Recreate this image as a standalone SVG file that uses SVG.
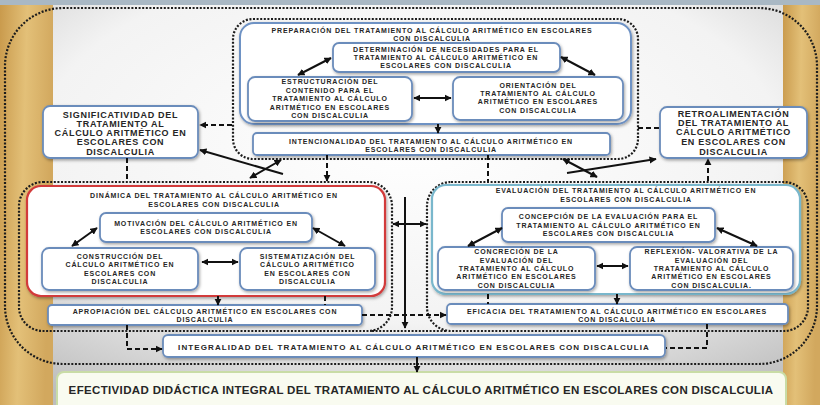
<svg xmlns="http://www.w3.org/2000/svg" width="820" height="405" viewBox="0 0 820 405">
<defs>
<radialGradient id="bg" cx="50%" cy="35%" r="75%">
<stop offset="0" stop-color="#ffffff"/>
<stop offset="0.6" stop-color="#f3f3f3"/>
<stop offset="1" stop-color="#bdbdbd"/>
</radialGradient>
<linearGradient id="wood" x1="0" y1="0" x2="1" y2="0.2">
<stop offset="0" stop-color="#c99a4c"/>
<stop offset="0.5" stop-color="#e3c078"/>
<stop offset="1" stop-color="#d2a85e"/>
</linearGradient>
<filter id="sh" x="-10%" y="-20%" width="120%" height="150%">
<feDropShadow dx="1" dy="1.5" stdDeviation="1.5" flood-color="#000" flood-opacity="0.35"/>
</filter>
<marker id="ah" viewBox="0 0 10 10" refX="9" refY="5" markerWidth="3.6" markerHeight="3.6" orient="auto-start-reverse">
<path d="M0,0 L10,5 L0,10 z" fill="#111"/>
</marker>
<style>
text{font-family:"Liberation Sans",Arial,sans-serif;font-weight:bold;fill:#262626;text-anchor:middle}
.t7{font-size:7px;letter-spacing:0.85px}
.t8{font-size:9px;letter-spacing:0.7px}
.ti{font-size:8px;letter-spacing:1.1px}
.te{font-size:11.5px;letter-spacing:0.35px}
.box{fill:#ffffff;stroke:#6b8cbb;stroke-width:1.8;filter:url(#sh)}
.frame{fill:none;stroke:#1c1c1c;stroke-width:2.2;stroke-dasharray:2 1.6}
.sol{fill:none;stroke:#111;stroke-width:2}
.das{fill:none;stroke:#111;stroke-width:2;stroke-dasharray:5 3}
</style>
</defs>

<g id="background">
<rect x="0" y="0" width="820" height="405" fill="url(#bg)"/>
<rect x="0" y="0" width="53" height="405" fill="url(#wood)"/>
<rect x="783" y="0" width="37" height="405" fill="url(#wood)"/>
<rect x="0" y="0" width="820" height="5" fill="#a9b8c4"/>
</g>

<g id="frames">
<rect class="frame" x="5" y="8" width="812" height="356" rx="58"/>
<rect class="frame" x="233" y="19" width="405" height="140" rx="20"/>
<rect class="frame" x="19" y="182" width="373" height="149" rx="24"/>
<rect class="frame" x="427" y="182" width="381" height="149" rx="24"/>
<line class="frame" x1="372" y1="331" x2="447" y2="331"/>
</g>

<g id="preparacion">
<rect x="240" y="23" width="391" height="101" rx="14" fill="#fff" stroke="#6e92c4" stroke-width="2" filter="url(#sh)"/>
<text class="t7" x="432" y="32.5">PREPARACIÓN DEL TRATAMIENTO AL CÁLCULO ARITMÉTICO EN ESCOLARES</text>
<text class="t7" x="432" y="41">CON DISCALCULIA</text>
</g>
<g id="determinacion">
<rect class="box" x="333" y="43" width="227" height="29" rx="6"/>
<text class="t7" x="446" y="52">DETERMINACIÓN DE NECESIDADES PARA EL</text>
<text class="t7" x="446" y="59.5">TRATAMIENTO AL CÁLCULO ARITMÉTICO EN</text>
<text class="t7" x="446" y="67.5">ESCOLARES CON DISCALCULIA</text>
</g>
<g id="estructuracion">
<rect class="box" x="248" y="77" width="164" height="44" rx="7"/>
<text class="t7" x="330" y="84">ESTRUCTURACIÓN DEL</text>
<text class="t7" x="330" y="92.5">CONTENIDO PARA EL</text>
<text class="t7" x="330" y="101">TRATAMIENTO AL CÁLCULO</text>
<text class="t7" x="330" y="109.5">ARITMÉTICO EN ESCOLARES</text>
<text class="t7" x="330" y="117.5">CON DISCALCULIA</text>
</g>
<g id="orientacion">
<rect class="box" x="453" y="77" width="170" height="43" rx="7"/>
<text class="t7" x="538" y="87.5">ORIENTACIÓN DEL</text>
<text class="t7" x="538" y="96">TRATAMIENTO AL CÁLCULO</text>
<text class="t7" x="538" y="104">ARITMÉTICO EN ESCOLARES</text>
<text class="t7" x="538" y="112.5">CON DISCALCULIA</text>
</g>
<g id="intencionalidad">
<rect class="box" x="253" y="133" width="357" height="22" rx="4"/>
<text class="t7" x="431" y="144">INTENCIONALIDAD DEL TRATAMIENTO AL CÁLCULO ARITMÉTICO EN</text>
<text class="t7" x="431" y="152">ESCOLARES CON DISCALCULIA</text>
</g>
<g id="significatividad">
<rect class="box" x="43" y="106" width="155" height="52" rx="7"/>
<text class="t8" x="120.5" y="118">SIGNIFICATIVIDAD DEL</text>
<text class="t8" x="120.5" y="127">TRATAMIENTO AL</text>
<text class="t8" x="120.5" y="136.3">CÁLCULO ARITMÉTICO EN</text>
<text class="t8" x="120.5" y="145">ESCOLARES CON</text>
<text class="t8" x="120.5" y="154.5">DISCALCULIA</text>
</g>
<g id="retroalimentacion">
<rect class="box" x="660" y="107" width="147" height="51" rx="7"/>
<text class="t8" x="733.5" y="116.5">RETROALIMENTACIÓN</text>
<text class="t8" x="733.5" y="125.8">DEL TRATAMIENTO AL</text>
<text class="t8" x="733.5" y="135">CÁLCULO ARITMÉTICO</text>
<text class="t8" x="733.5" y="144.8">EN ESCOLARES CON</text>
<text class="t8" x="733.5" y="154.5">DISCALCULIA</text>
</g>

<g id="dinamica">
<rect x="27" y="186" width="358" height="110" rx="14" fill="#fff" stroke="#d23a3a" stroke-width="2.2" filter="url(#sh)"/>
<text class="t7" x="214" y="197.5">DINÁMICA DEL TRATAMIENTO AL CÁLCULO ARITMÉTICO EN</text>
<text class="t7" x="214" y="206.5">ESCOLARES CON DISCALCULIA</text>
</g>
<g id="motivacion">
<rect class="box" x="100" y="213" width="212" height="29" rx="6"/>
<text class="t7" x="206" y="226">MOTIVACIÓN DEL CÁLCULO ARITMÉTICO EN</text>
<text class="t7" x="206" y="234">ESCOLARES CON DISCALCULIA</text>
</g>
<g id="construccion">
<rect class="box" x="42" y="248" width="156" height="42" rx="7"/>
<text class="t7" x="120" y="258.5">CONSTRUCCIÓN DEL</text>
<text class="t7" x="120" y="267">CÁLCULO ARITMÉTICO EN</text>
<text class="t7" x="120" y="275.5">ESCOLARES CON</text>
<text class="t7" x="120" y="284">DISCALCULIA</text>
</g>
<g id="sistematizacion">
<rect class="box" x="240" y="248" width="135" height="42" rx="7"/>
<text class="t7" x="307.5" y="258.5">SISTEMATIZACIÓN DEL</text>
<text class="t7" x="307.5" y="267">CÁLCULO ARITMÉTICO</text>
<text class="t7" x="307.5" y="275.5">EN ESCOLARES CON</text>
<text class="t7" x="307.5" y="284">DISCALCULIA</text>
</g>
<g id="apropiacion">
<rect class="box" x="48" y="305" width="314" height="20" rx="4"/>
<text class="t7" x="205" y="313.5">APROPIACIÓN DEL CÁLCULO ARITMÉTICO EN ESCOLARES CON</text>
<text class="t7" x="205" y="322">DISCALCULIA</text>
</g>

<g id="evaluacion">
<rect x="432" y="185" width="368" height="109" rx="14" fill="#fff" stroke="#79b7cc" stroke-width="2.2" filter="url(#sh)"/>
<text class="t7" x="626" y="192.5">EVALUACIÓN DEL TRATAMIENTO AL CÁLCULO ARITMÉTICO EN</text>
<text class="t7" x="626" y="201.5">ESCOLARES CON DISCALCULIA</text>
</g>
<g id="concepcion">
<rect class="box" x="502" y="208" width="213" height="34" rx="6"/>
<text class="t7" x="608.5" y="219">CONCEPCIÓN DE LA EVALUACIÓN PARA EL</text>
<text class="t7" x="608.5" y="227.5">TRATAMIENTO AL CÁLCULO ARITMÉTICO EN</text>
<text class="t7" x="608.5" y="236">ESCOLARES CON DISCALCULIA</text>
</g>
<g id="concrecion">
<rect class="box" x="438" y="247" width="157" height="43" rx="7"/>
<text class="t7" x="516.5" y="254">CONCRECIÓN DE LA</text>
<text class="t7" x="516.5" y="262.5">EVALUACIÓN DEL</text>
<text class="t7" x="516.5" y="271">TRATAMIENTO AL CÁLCULO</text>
<text class="t7" x="516.5" y="279">ARITMÉTICO EN ESCOLARES</text>
<text class="t7" x="516.5" y="287.5">CON DISCALCULIA</text>
</g>
<g id="reflexion">
<rect class="box" x="630" y="247" width="163" height="43" rx="7"/>
<text class="t7" x="711.5" y="254">REFLEXIÓN- VALORATIVA DE LA</text>
<text class="t7" x="711.5" y="262.5">EVALUACIÓN DEL</text>
<text class="t7" x="711.5" y="271">TRATAMIENTO AL CÁLCULO</text>
<text class="t7" x="711.5" y="279">ARITMÉTICO EN ESCOLARES</text>
<text class="t7" x="711.5" y="287.5">CON DISCALCULIA.</text>
</g>
<g id="eficacia">
<rect class="box" x="447" y="304" width="341" height="20" rx="4"/>
<text class="t7" x="617" y="313.5">EFICACIA DEL TRATAMIENTO AL CÁLCULO ARITMÉTICO EN ESCOLARES</text>
<text class="t7" x="617" y="322">CON DISCALCULIA</text>
</g>

<g id="integralidad">
<rect class="box" x="163" y="335" width="502" height="22" rx="5"/>
<text class="ti" x="414" y="349.5">INTEGRALIDAD DEL TRATAMIENTO AL CÁLCULO ARITMÉTICO EN ESCOLARES CON DISCALCULIA</text>
</g>
<g id="efectividad">
<rect x="57" y="372" width="729" height="40" rx="7" fill="#f9fbf0" stroke="#c9dca6" stroke-width="2"/>
<text class="te" x="421" y="394">EFECTIVIDAD DIDÁCTICA INTEGRAL DEL TRATAMIENTO AL CÁLCULO ARITMÉTICO EN ESCOLARES CON DISCALCULIA</text>
</g>

<g id="connectors">
<line class="sol" x1="298" y1="75" x2="331" y2="58" marker-start="url(#ah)" marker-end="url(#ah)"/>
<line class="sol" x1="561" y1="57" x2="595" y2="75" marker-start="url(#ah)" marker-end="url(#ah)"/>
<line class="sol" x1="414" y1="98" x2="451" y2="98" marker-start="url(#ah)" marker-end="url(#ah)"/>
<line class="sol" x1="438" y1="124" x2="438" y2="133" marker-end="url(#ah)"/>
<line class="das" x1="232" y1="125" x2="200" y2="125" marker-end="url(#ah)"/>
<line class="das" x1="638" y1="128" x2="660" y2="128"/>
<line class="sol" x1="283" y1="174" x2="200" y2="150" marker-end="url(#ah)"/>
<line class="sol" x1="250" y1="178" x2="281" y2="160" marker-start="url(#ah)" marker-end="url(#ah)"/>
<line class="sol" x1="563" y1="159" x2="597" y2="177" marker-start="url(#ah)" marker-end="url(#ah)"/>
<line class="sol" x1="567" y1="173" x2="656" y2="159" marker-end="url(#ah)"/>
<line class="das" x1="127" y1="158" x2="127" y2="181"/>
<line class="das" x1="327" y1="155" x2="327" y2="181" marker-end="url(#ah)"/>
<line class="das" x1="488" y1="155" x2="488" y2="181"/>
<line class="das" x1="708" y1="181" x2="708" y2="159" marker-end="url(#ah)"/>
<line class="sol" x1="97" y1="228" x2="72" y2="246" marker-start="url(#ah)" marker-end="url(#ah)"/>
<line class="sol" x1="313" y1="228" x2="345" y2="246" marker-start="url(#ah)" marker-end="url(#ah)"/>
<line class="sol" x1="202" y1="262" x2="238" y2="262" marker-start="url(#ah)" marker-end="url(#ah)"/>
<line class="sol" x1="502" y1="228" x2="468" y2="246" marker-start="url(#ah)" marker-end="url(#ah)"/>
<line class="sol" x1="717" y1="228" x2="757" y2="246" marker-start="url(#ah)" marker-end="url(#ah)"/>
<line class="sol" x1="597" y1="266" x2="628" y2="266" marker-start="url(#ah)" marker-end="url(#ah)"/>
<line class="sol" x1="218" y1="296" x2="218" y2="305" marker-end="url(#ah)"/>
<line class="das" x1="325" y1="296" x2="325" y2="305"/>
<line class="das" x1="488" y1="294" x2="488" y2="304"/>
<line class="sol" x1="617" y1="294" x2="617" y2="304" marker-end="url(#ah)"/>
<line class="sol" x1="405" y1="197" x2="405" y2="328" marker-end="url(#ah)"/>
<line class="sol" x1="393" y1="224" x2="426" y2="224" marker-start="url(#ah)" marker-end="url(#ah)"/>
<line class="das" x1="362" y1="315" x2="446" y2="315" marker-end="url(#ah)"/>
<polyline class="das" points="127,325 127,349 162,349" marker-end="url(#ah)"/>
<polyline class="das" points="707,324 707,348 666,348"/>
<line class="sol" x1="417" y1="357" x2="417" y2="372" marker-end="url(#ah)"/>
</g>
</svg>
